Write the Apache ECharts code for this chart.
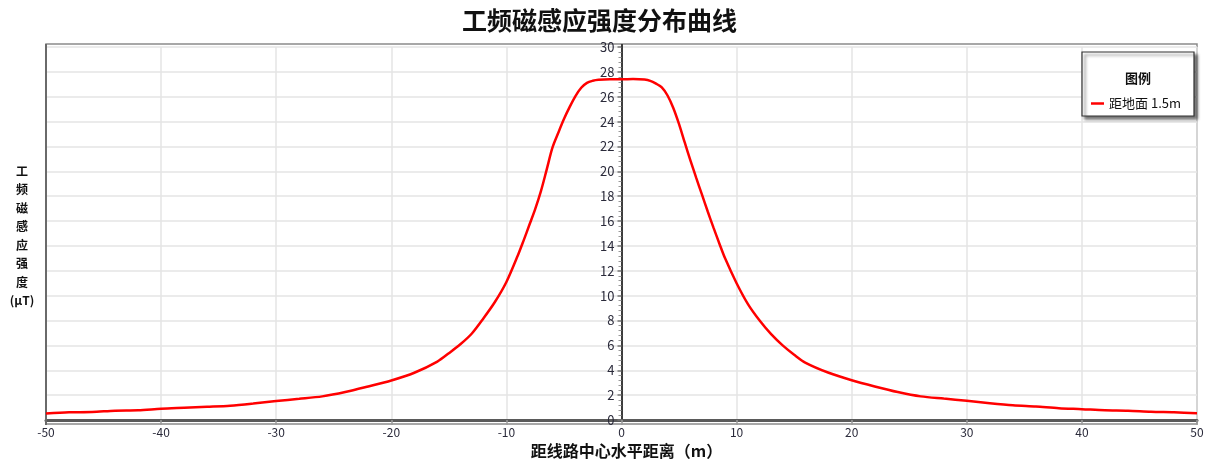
<!DOCTYPE html>
<html>
<head>
<meta charset="utf-8">
<script src="https://cdn.jsdelivr.net/npm/echarts@6/dist/echarts.min.js"></script>
<style>
  html, body { margin: 0; padding: 0; background: #fff; }
  #chart { width: 1211px; height: 464px; }
</style>
</head>
<body>
<div id="chart"></div>
<script>
// Horizontal distance from the line centre (m)
const distances = [
  -50, -48, -46, -44, -42, -40, -38, -36, -34, -32, -30, -28, -26, -24, -22, -20, -18, -16,
  -15, -14, -13, -12, -11, -10, -9, -8.5, -8, -7.5, -7, -6.5, -6, -5.5, -5, -4.5, -4, -3.5, -3, -2.5, -2, -1, 0,
  1, 2, 2.5, 3, 3.5, 4, 4.5, 5, 5.5, 6, 6.5, 7, 7.5, 8, 8.5, 9, 10, 11, 12, 13, 14, 15, 16,
  18, 20, 22, 24, 26, 28, 30, 32, 34, 36, 38, 40, 42, 44, 46, 48, 50
];
// Power-frequency magnetic induction at 1.5 m above ground (μT)
const induction = [
  0.53, 0.62, 0.64, 0.75, 0.78, 0.90, 0.98, 1.06, 1.15, 1.32, 1.52, 1.70, 1.90, 2.25, 2.70, 3.18, 3.80, 4.70,
  5.37, 6.09, 6.96, 8.17, 9.49, 11.10, 13.25, 14.45, 15.70, 16.96, 18.41, 20.14, 21.90, 23.08, 24.20, 25.18, 26.05, 26.72, 27.12, 27.28, 27.36, 27.40, 27.40,
  27.42, 27.38, 27.28, 27.05, 26.75, 26.10, 25.10, 23.80, 22.30, 20.85, 19.45, 18.10, 16.75, 15.45, 14.20, 13.00, 11.00, 9.30, 8.00, 6.90, 6.00, 5.25, 4.60,
  3.80, 3.20, 2.70, 2.25, 1.90, 1.72, 1.55, 1.35, 1.18, 1.08, 0.95, 0.87, 0.78, 0.75, 0.66, 0.62, 0.55
];
const seriesName = '距地面 1.5m';
const yNameChars = ['工', '频', '磁', '感', '应', '强', '度', '(μT)'];

const points = distances.map((d, i) => [d, induction[i]]);

const chart = echarts.init(document.getElementById('chart'), null, { renderer: 'canvas' });
const FONT = '"Noto Sans CJK SC", "Noto Sans", sans-serif';
const LABEL_COLOR = '#2a2a3a';

// grid geometry, used to place the value axis on x = 0
const GRID_LEFT = 46, GRID_RIGHT = 14;
const plotWidth = 1211 - GRID_LEFT - GRID_RIGHT;
const yAxisOffset = -plotWidth * (0 - (-50)) / 100;

chart.setOption({
  animation: false,
  backgroundColor: '#ffffff',
  textStyle: { fontFamily: FONT },
  title: {
    text: '工频磁感应强度分布曲线',
    left: 457,
    top: 3,
    textStyle: { fontFamily: FONT, fontSize: 25, fontWeight: 'bold', color: '#111' }
  },
  grid: { left: GRID_LEFT, right: GRID_RIGHT, top: 47, bottom: 40, containLabel: false },
  xAxis: {
    type: 'value',
    min: -50, max: 50, interval: 10,
    name: '距线路中心水平距离（m）',
    nameLocation: 'middle',
    nameGap: 23,
    nameTextStyle: { fontFamily: FONT, fontSize: 16, fontWeight: 'bold', color: '#111', padding: [0, 0, 0, 10] },
    axisLine: { show: true, onZero: false, lineStyle: { color: '#5a5a5a', width: 3 } },
    axisTick: { show: true, length: 5, lineStyle: { color: '#9a9a9a', width: 1.5 } },
    axisLabel: { fontSize: 12, color: LABEL_COLOR, margin: 6 },
    splitLine: { show: true, lineStyle: { color: '#e4e4e4', width: 1.5 } }
  },
  yAxis: {
    type: 'value',
    position: 'left',
    offset: yAxisOffset,
    min: 0, max: 30, interval: 2,
    axisLine: { show: true, onZero: false, lineStyle: { color: '#3c3c3c', width: 2 } },
    axisTick: { show: true, inside: false, length: 4, lineStyle: { color: '#777', width: 1.5 } },
    minorTick: { show: true, splitNumber: 5, length: 3, lineStyle: { color: '#999', width: 1 } },
    axisLabel: { fontSize: 13, color: LABEL_COLOR, margin: 7 },
    splitLine: { show: true, lineStyle: { color: '#e4e4e4', width: 1.5 } }
  },
  legend: {
    data: [{ name: seriesName, icon: 'rect' }],
    left: 1086, top: 92, z: 60,
    itemWidth: 13, itemHeight: 2.5, itemGap: 4,
    textStyle: { fontFamily: FONT, fontSize: 13, color: '#111' }
  },
  graphic: [
    // plot frame
    {
      type: 'rect', z: 0, silent: true,
      shape: { x: 46, y: 44, width: 1151, height: 380 },
      style: { fill: 'none', stroke: '#8a8a8a', lineWidth: 1.5 }
    },
    {
      type: 'line', z: 1, silent: true,
      shape: { x1: 46, y1: 44, x2: 46, y2: 425 },
      style: { stroke: '#6a6a6a', lineWidth: 2 }
    },
    // y axis extends to the top frame
    {
      type: 'line', z: 1, silent: true,
      shape: { x1: 622, y1: 44, x2: 622, y2: 47 },
      style: { stroke: '#3c3c3c', lineWidth: 2 }
    },
    // legend box
    {
      type: 'rect', z: 50, silent: true,
      shape: { x: 1082, y: 52, width: 112, height: 64 },
      style: {
        fill: '#ffffff', stroke: '#333', lineWidth: 1.2,
        shadowColor: 'rgba(0,0,0,0.55)', shadowBlur: 3, shadowOffsetX: 3, shadowOffsetY: 3
      }
    },
    {
      type: 'text', z: 51, silent: true,
      style: {
        x: 1138, y: 78, text: '图例', align: 'center', verticalAlign: 'middle',
        font: 'bold 13px ' + FONT, fill: '#111'
      }
    },
    // vertical y-axis title
    {
      type: 'text', z: 10, silent: true,
      style: {
        x: 22, y: 162, text: yNameChars.join('\n'), align: 'center', verticalAlign: 'top',
        font: 'bold 12px ' + FONT, fill: '#111', lineHeight: 18.5
      }
    }
  ],
  series: [{
    name: seriesName,
    type: 'line',
    data: points,
    smooth: 0.3,
    showSymbol: false,
    symbol: 'none',
    z: 5,
    lineStyle: { color: '#ff0000', width: 2.5 },
    itemStyle: { color: '#ff0000' }
  }]
});
</script>
</body>
</html>
